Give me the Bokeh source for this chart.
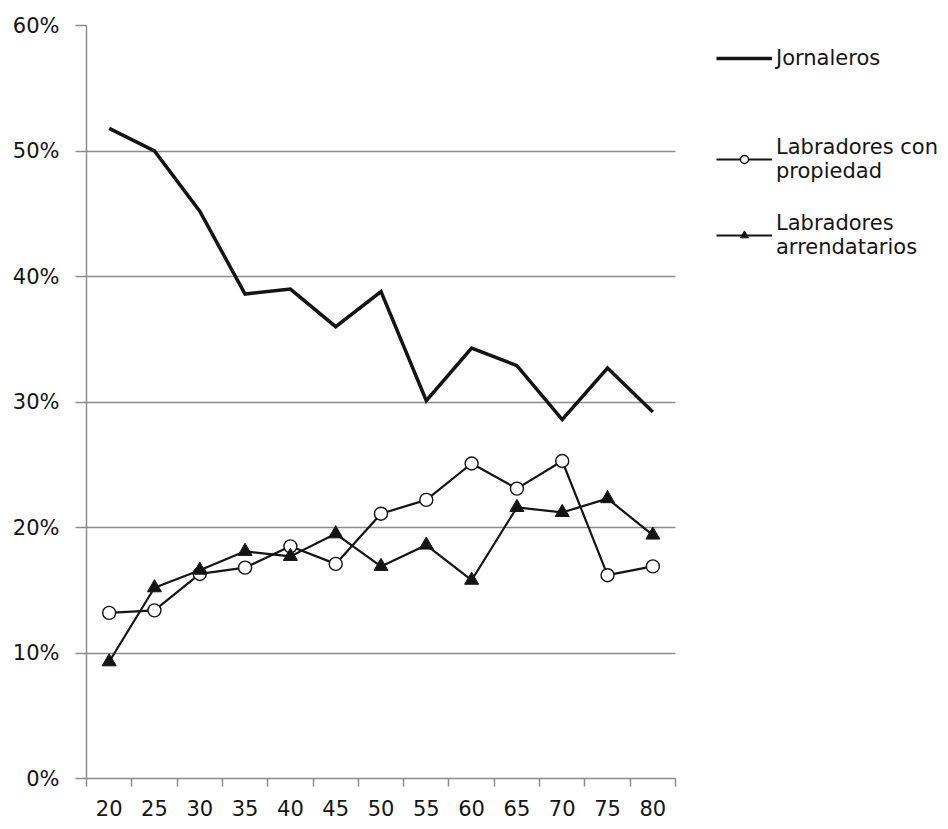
from bokeh.plotting import figure
from bokeh.models import Range1d, FixedTicker, NumeralTickFormatter, Legend, LegendItem
from bokeh.embed import file_html
from bokeh.resources import INLINE

# ---- data ----
ages = [20, 25, 30, 35, 40, 45, 50, 55, 60, 65, 70, 75, 80]
jornaleros = [0.518, 0.500, 0.452, 0.386, 0.390, 0.360, 0.388, 0.301, 0.343, 0.329, 0.286, 0.327, 0.292]
propiedad = [0.132, 0.134, 0.163, 0.168, 0.185, 0.171, 0.211, 0.222, 0.251, 0.231, 0.253, 0.162, 0.169]
arrendatarios = [0.093, 0.152, 0.166, 0.181, 0.177, 0.195, 0.169, 0.186, 0.158, 0.216, 0.212, 0.223, 0.194]
y_ticks = [0, 0.1, 0.2, 0.3, 0.4, 0.5, 0.6]
names = ["Jornaleros", "Labradores con\npropiedad", "Labradores\narrendatarios"]

FONT = "DejaVu Sans"
INK = "#141414"
GRID = "#8c8c8c"

W, H = 940, 821
LEFT, TOP, BOTTOM = 86, 25, 43
PLOT_W = 589  # width of the data area; the rest of the frame holds the legend
FRAME_W = W - LEFT

step = ages[1] - ages[0]
bounds = [a - step / 2 for a in ages] + [ages[-1] + step / 2]
x0, x1 = bounds[0], bounds[-1]
x_end = x0 + (x1 - x0) * FRAME_W / PLOT_W

p = figure(width=W, height=H,
           min_border_left=LEFT, min_border_top=TOP, min_border_bottom=BOTTOM, min_border_right=0,
           x_range=Range1d(x0, x_end), y_range=Range1d(0, 0.6),
           output_backend="svg", toolbar_location=None)
p.outline_line_color = None
p.background_fill_color = "white"
p.border_fill_color = "white"

# axes
p.xaxis.bounds = (x0, x1)
p.xaxis.ticker = FixedTicker(ticks=ages, minor_ticks=bounds)
p.xaxis.major_tick_in = 0
p.xaxis.major_tick_out = 0
p.xaxis.minor_tick_in = 0
p.xaxis.minor_tick_out = 8
p.xaxis.minor_tick_line_color = GRID
p.xaxis.minor_tick_line_width = 1.5
p.xaxis.axis_line_color = GRID
p.xaxis.axis_line_width = 1.5
p.xaxis.major_label_standoff = 13
p.xaxis.major_label_text_font = FONT
p.xaxis.major_label_text_font_size = "21px"
p.xaxis.major_label_text_color = INK

p.yaxis.ticker = FixedTicker(ticks=y_ticks, minor_ticks=[])
p.yaxis.formatter = NumeralTickFormatter(format="0%")
p.yaxis.major_tick_in = 0
p.yaxis.major_tick_out = 11
p.yaxis.major_tick_line_color = GRID
p.yaxis.major_tick_line_width = 1.5
p.yaxis.minor_tick_line_color = None
p.yaxis.axis_line_color = GRID
p.yaxis.axis_line_width = 1.5
p.yaxis.major_label_standoff = 16
p.yaxis.major_label_text_font = FONT
p.yaxis.major_label_text_font_size = "21px"
p.yaxis.major_label_text_color = INK

p.xgrid.visible = False
p.ygrid.grid_line_color = GRID
p.ygrid.grid_line_width = 1.5
p.ygrid.cross_bounds = (x0, x1)

# series
l1 = p.line(ages, jornaleros, line_color=INK, line_width=3.5, line_join="miter")
l2 = p.line(ages, propiedad, line_color=INK, line_width=2.2)
s2 = p.scatter(ages, propiedad, marker="circle", size=13, fill_color="white",
               line_color=INK, line_width=1.4)
l3 = p.line(ages, arrendatarios, line_color=INK, line_width=2.2)
s3 = p.scatter(ages, arrendatarios, marker="triangle", size=14, fill_color=INK,
               line_color=INK)

# legends (two blocks, like the original's uneven spacing)
common = dict(border_line_color=None, background_fill_alpha=0,
              padding=0, margin=0, spacing=28,
              glyph_width=56, glyph_height=20, label_standoff=4, label_height=20,
              label_text_font=FONT, label_text_font_size="21px",
              label_text_color=INK)
leg_a = Legend(items=[LegendItem(label=names[0], renderers=[l1])],
               location=(630, 708), **common)
leg_b = Legend(items=[LegendItem(label=names[1], renderers=[l2, s2]),
                      LegendItem(label=names[2], renderers=[l3, s3])],
               location=(630, 519), **common)
p.add_layout(leg_a, "center")
p.add_layout(leg_b, "center")

open("out.html", "w").write(file_html(p, INLINE))
